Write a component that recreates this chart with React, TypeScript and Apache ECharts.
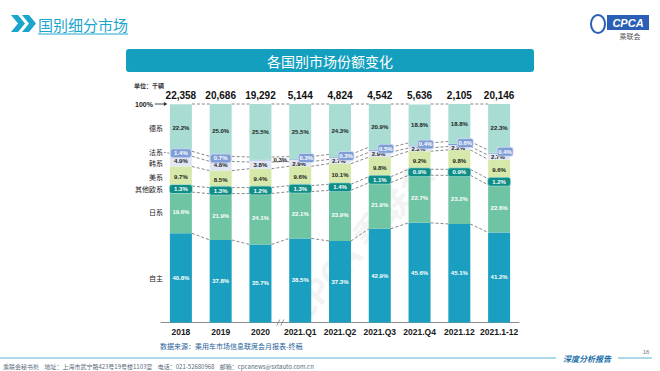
import React, { useEffect, useRef } from 'react';
import * as echarts from 'echarts';

const categories = ['2018', '2019', '2020', '2021.Q1', '2021.Q2', '2021.Q3', '2021.Q4', '2021.12', '2021.1-12'];
const totals = ['22,358', '20,686', '19,292', '5,144', '4,824', '4,542', '5,636', '2,105', '20,146'];
const zizhu = [40.8, 37.8, 35.7, 38.5, 37.3, 42.9, 45.6, 45.1, 41.2];
const rixi = [19.6, 21.9, 24.1, 22.1, 23.9, 21.9, 22.7, 23.2, 22.6];
const qitaOuxi = [1.3, 1.3, 1.2, 1.3, 1.4, 1.1, 0.9, 0.9, 1.2];
const meixi = [9.7, 8.5, 9.4, 9.6, 10.1, 9.8, 9.2, 9.8, 9.6];
const hanxi = [4.9, 4.8, 3.8, 2.9, 2.7, 2.9, 2.2, 2.2, 2.7];
const faxi = [1.4, 0.7, 0.3, 0.3, 0.3, 0.5, 0.4, 0.6, 0.4];
const dexi = [22.2, 25.0, 25.5, 25.5, 24.3, 20.9, 18.8, 18.8, 22.3];
const seriesNames = ['自主', '日系', '其他欧系', '美系', '韩系', '法系', '德系'];

const FONT = '"Liberation Sans", Arial, sans-serif';
const CJK = '"Noto Sans CJK SC", sans-serif';
const BAR_W = 22;
const FAXI_OUTSIDE_INDEX = 2;

const fmt = (p: any) => Number(p.value).toFixed(1) + '%';

const baseLabel = (color: string) => ({
  show: true,
  position: 'inside',
  color,
  fontSize: 6,
  fontWeight: 'bold',
  fontFamily: FONT,
  formatter: fmt,
});

const boxLabel = (bg: string, border: string, w: number) => ({
  show: true,
  position: 'inside',
  color: '#fff',
  fontSize: 6,
  fontWeight: 'bold',
  fontFamily: FONT,
  backgroundColor: bg,
  borderColor: border,
  borderWidth: 0.8,
  borderRadius: 2,
  padding: [1, 1],
  width: w,
  align: 'center',
  formatter: fmt,
});

function buildSeries() {
  const bar = (name: string, data: any[], color: string, label: any) => ({
    name,
    type: 'bar',
    stack: 'total',
    barWidth: BAR_W,
    data,
    itemStyle: { color },
    label,
    z: 2,
  });
  return [
    bar('自主', zizhu, '#1a9fc0', baseLabel('#ffffff')),
    bar('日系', rixi, '#6fc4a3', baseLabel('#ffffff')),
    bar('其他欧系', qitaOuxi, '#13908a', boxLabel('#0f8e88', '#9ad6cf', 20)),
    bar('美系', meixi, '#d6e9aa', baseLabel('#222222')),
    bar(
      '韩系',
      hanxi.map((v) =>
        v < 3.5
          ? { value: v, label: { ...baseLabel('#222222'), position: 'insideLeft', offset: [-2, 0.5] } }
          : { value: v }
      ),
      '#e0e6f3',
      baseLabel('#222222')
    ),
    bar(
      '法系',
      faxi.map((v, i) => {
        if (i === FAXI_OUTSIDE_INDEX) {
          return {
            value: v,
            label: {
              ...baseLabel('#222222'),
              position: 'right',
              distance: 2,
              backgroundColor: 'transparent',
              borderWidth: 0,
              borderColor: 'transparent',
              padding: 0,
              width: 16,
              align: 'left',
            },
          };
        }
        if (hanxi[i] < 3.5) {
          return { value: v, label: { ...boxLabel('#7f9ed6', '#c9d6f0', 13), offset: [6, -1.5] } };
        }
        return { value: v, label: { ...boxLabel('#7f9ed6', '#c9d6f0', 18), offset: [0, -1] } };
      }),
      '#7f9ed6',
      baseLabel('#ffffff')
    ),
    bar('德系', dexi, '#a9ddd4', baseLabel('#222222')),
  ];
}

function levels(i: number) {
  const a = zizhu[i];
  const b = a + rixi[i] + qitaOuxi[i] / 2;
  const c = a + rixi[i] + qitaOuxi[i] + meixi[i];
  const d = c + hanxi[i] + faxi[i] / 2;
  return { a, b, c, d, e: 100 };
}

const connectorSeries = {
  type: 'custom',
  silent: true,
  clip: false,
  z: 1,
  data: categories.slice(0, -1).map((_, i) => [i, 0]),
  encode: { x: 0, y: 1 },
  renderItem: (params: any, api: any) => {
    const i = api.value(0) as number;
    const l1 = levels(i);
    const l2 = levels(i + 1);
    const half = BAR_W / 2;
    const children: any[] = [];
    const add = (v1: number, v2: number, dy: number) => {
      const p1 = api.coord([i, v1]);
      const p2 = api.coord([i + 1, v2]);
      children.push({
        type: 'line',
        shape: { x1: p1[0] + half, y1: p1[1] + dy, x2: p2[0] - half, y2: p2[1] + dy },
        style: { stroke: '#6a6a6a', lineWidth: 0.8, lineDash: [3, 2] },
      });
    };
    add(l1.a, l2.a, 0);
    add(l1.b, l2.b, -3);
    add(l1.b, l2.b, 3);
    add(l1.c, l2.c, 0);
    add(l1.d, l2.d, -3);
    add(l1.d, l2.d, 2);
    add(l1.e, l2.e, 0);
    return { type: 'group', children };
  },
};

const staticGraphics: any[] = [
  // header
  { type: 'polygon', shape: { points: [[11, 15], [18, 15], [25, 23.5], [18, 32], [11, 32], [18, 23.5]] }, style: { fill: '#1ba5cc' } },
  { type: 'polygon', shape: { points: [[22, 15], [29, 15], [36, 23.5], [29, 32], [22, 32], [29, 23.5]] }, style: { fill: '#1ba5cc' } },
  { type: 'text', x: 38, y: 24, style: { text: '国别细分市场', fill: '#1ba5cc', fontSize: 15, fontFamily: CJK, verticalAlign: 'middle' } },
  { type: 'line', shape: { x1: 38, y1: 34, x2: 128, y2: 34 }, style: { stroke: '#1ba5cc', lineWidth: 1 } },
  // logo
  { type: 'ellipse', shape: { cx: 598, cy: 24, rx: 7, ry: 9 }, style: { fill: 'none', stroke: '#2a5fb5', lineWidth: 2 } },
  { type: 'rect', shape: { x: 607, y: 15, width: 42, height: 15 }, style: { fill: '#2a5fb5' } },
  { type: 'text', x: 628, y: 22.5, style: { text: 'CPCA', fill: '#fff', fontSize: 11, fontWeight: 'bold', fontStyle: 'italic', fontFamily: FONT, align: 'center', verticalAlign: 'middle' } },
  { type: 'text', x: 630, y: 36, style: { text: '乘联会', fill: '#555', fontSize: 7, fontFamily: CJK, align: 'center', verticalAlign: 'middle' } },
  // banner
  { type: 'rect', shape: { x: 126, y: 49, width: 408, height: 23, r: 3 }, style: { fill: '#159fbe' } },
  { type: 'text', x: 330, y: 60.5, style: { text: '各国别市场份额变化', fill: '#fff', fontSize: 14, fontFamily: CJK, align: 'center', verticalAlign: 'middle' } },
  // unit
  { type: 'text', x: 134, y: 85, style: { text: '单位：千辆', fill: '#333', fontSize: 6, fontWeight: 'bold', fontFamily: CJK, verticalAlign: 'middle' } },
  // source + footer
  { type: 'text', x: 160, y: 346, style: { text: '数据来源：乘用车市场信息联席会月报表-终稿', fill: '#1f5f9a', fontSize: 7, fontFamily: CJK, verticalAlign: 'middle' } },
  { type: 'line', shape: { x1: 0, y1: 358, x2: 556, y2: 358 }, style: { stroke: '#2aa0c8', lineWidth: 0.8 } },
  { type: 'text', x: 587, y: 358, style: { text: '深度分析报告', fill: '#1a6fa8', fontSize: 8, fontStyle: 'italic', fontWeight: 'bold', fontFamily: CJK, align: 'center', verticalAlign: 'middle' } },
  { type: 'line', shape: { x1: 618, y1: 358, x2: 652, y2: 358 }, style: { stroke: '#2aa0c8', lineWidth: 0.8 } },
  { type: 'text', x: 646, y: 352, style: { text: '16', fill: '#777', fontSize: 6, fontFamily: FONT, align: 'center', verticalAlign: 'middle' } },
  { type: 'text', x: 3, y: 366, style: { text: '乘联会秘书处    地址：上海市武宁路423号19号楼1103室    电话：021-52680968    邮箱：cpcanews@sxtauto.com.cn', fill: '#5a6a7a', fontSize: 6, fontFamily: CJK, verticalAlign: 'middle' } },
  // watermark
  { type: 'text', x: 360, y: 240, rotation: 0.85, z: 0, style: { text: 'CPCA 乘联会', fill: 'rgba(180,180,180,0.18)', fontSize: 34, fontWeight: 'bold', fontFamily: CJK, align: 'center', verticalAlign: 'middle' } },
];

export default function App() {
  const ref = useRef<HTMLDivElement>(null);
  useEffect(() => {
    if (!ref.current) return;
    const chart = echarts.init(ref.current, null, { renderer: 'svg' });
    const option: any = {
      animation: false,
      backgroundColor: '#ffffff',
      grid: { left: 161, width: 358, top: 104, bottom: 48.5 },
      xAxis: [
        {
          type: 'category',
          data: categories,
          axisLine: { lineStyle: { color: '#8c8c8c', width: 1 } },
          axisTick: { show: false },
          axisLabel: { interval: 0, color: '#1a1a1a', fontSize: 8.5, fontWeight: 'bold', fontFamily: FONT, margin: 5 },
        },
        {
          type: 'category',
          position: 'top',
          data: totals,
          axisLine: { show: false },
          axisTick: { show: false },
          axisLabel: { interval: 0, color: '#111', fontSize: 10, fontWeight: 'bold', fontFamily: FONT, margin: 4 },
        },
      ],
      yAxis: { type: 'value', min: 0, max: 100, show: false },
      series: [...buildSeries(), connectorSeries],
    };
    chart.setOption(option);

    const px = (ci: number, v: number) =>
      chart.convertToPixel({ xAxisIndex: 0, yAxisIndex: 0 }, [ci, v]) as number[];
    const barLeft = px(0, 0)[0] - BAR_W / 2;
    const cumStarts: number[] = [];
    const firsts = [zizhu[0], rixi[0], qitaOuxi[0], meixi[0], hanxi[0], faxi[0], dexi[0]];
    let acc = 0;
    firsts.forEach((v) => {
      cumStarts.push(acc + v / 2);
      acc += v;
    });
    const nameGraphics: any[] = seriesNames.map((n, k) => ({
      type: 'text',
      x: barLeft - 7,
      y: px(0, cumStarts[k])[1] + (k === 5 ? -2 : k === 4 ? 1.5 : 0),
      style: { text: n, fill: '#222', fontSize: 7, fontFamily: CJK, align: 'right', verticalAlign: 'middle' },
    }));
    const faY = px(0, cumStarts[5])[1];
    nameGraphics.push({
      type: 'line',
      shape: { x1: barLeft - 6, y1: faY - 2, x2: barLeft, y2: faY - 1 },
      style: { stroke: '#6a6a6a', lineWidth: 0.8, lineDash: [2, 1.5] },
    });
    const topY = px(0, 100)[1];
    nameGraphics.push(
      { type: 'text', x: barLeft - 17, y: topY, style: { text: '100%', fill: '#222', fontSize: 7, fontWeight: 'bold', fontFamily: FONT, align: 'right', verticalAlign: 'middle' } },
      { type: 'line', shape: { x1: barLeft - 15, y1: topY, x2: barLeft - 5, y2: topY }, style: { stroke: '#333', lineWidth: 0.9 } },
      { type: 'polygon', shape: { points: [[barLeft - 6, topY - 2], [barLeft - 2.5, topY], [barLeft - 6, topY + 2]] }, style: { fill: '#333' } }
    );
    const brkX = (px(2, 0)[0] + px(3, 0)[0]) / 2;
    const baseY = px(0, 0)[1];
    nameGraphics.push(
      { type: 'rect', shape: { x: brkX - 3, y: baseY - 2, width: 6, height: 4 }, style: { fill: '#fff' } },
      { type: 'line', shape: { x1: brkX - 3.5, y1: baseY + 3, x2: brkX - 0.5, y2: baseY - 3 }, style: { stroke: '#777', lineWidth: 0.8 } },
      { type: 'line', shape: { x1: brkX + 0.5, y1: baseY + 3, x2: brkX + 3.5, y2: baseY - 3 }, style: { stroke: '#777', lineWidth: 0.8 } }
    );

    chart.setOption({ graphic: [...staticGraphics, ...nameGraphics] });
    return () => chart.dispose();
  }, []);
  return <div ref={ref} style={{ position: 'fixed', left: 0, top: 0, width: 660, height: 371 }} />;
}
